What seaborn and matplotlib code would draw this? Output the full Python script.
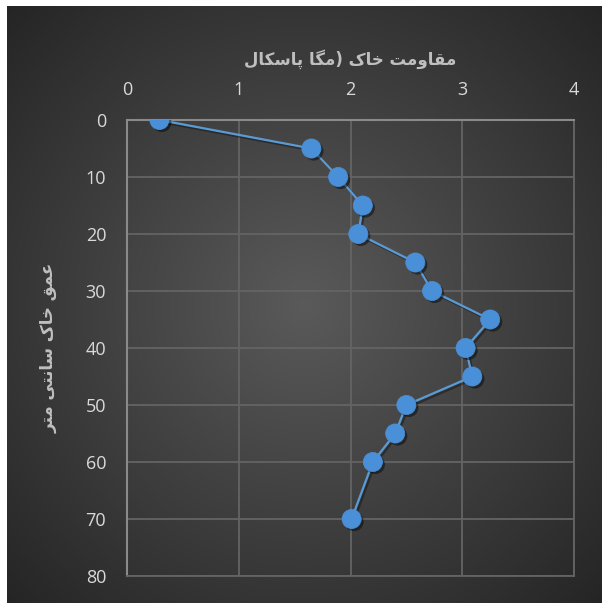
import numpy as np
import pandas as pd
import matplotlib
matplotlib.use("Agg")
import matplotlib.pyplot as plt
import matplotlib.patheffects as pe
import seaborn as sns

# Soil penetration resistance versus depth
depth_cm = [0, 5, 10, 15, 20, 25, 30, 35, 40, 45, 50, 55, 60, 70]
resistance_mpa = [0.29, 1.65, 1.89, 2.11, 2.07, 2.58, 2.73, 3.25, 3.03, 3.09, 2.50, 2.40, 2.20, 2.01]

x_ticks = [0, 1, 2, 3, 4]
y_ticks = [0, 10, 20, 30, 40, 50, 60, 70, 80]

x_title = "مقاومت خاک (مگا پاسکال"
y_title = "عمق خاک سانتی متر"

# --- minimal Arabic/Persian shaping (matplotlib has no text shaping) ---
# (isolated, final, initial, medial); right-joining letters have no initial/medial forms
DUAL = {
    "ب": (0xFE8F, 0xFE90, 0xFE91, 0xFE92),
    "پ": (0xFB56, 0xFB57, 0xFB58, 0xFB59),
    "ت": (0xFE95, 0xFE96, 0xFE97, 0xFE98),
    "خ": (0xFEA5, 0xFEA6, 0xFEA7, 0xFEA8),
    "س": (0xFEB1, 0xFEB2, 0xFEB3, 0xFEB4),
    "ع": (0xFEC9, 0xFECA, 0xFECB, 0xFECC),
    "ق": (0xFED5, 0xFED6, 0xFED7, 0xFED8),
    "ک": (0xFB8E, 0xFB8F, 0xFB90, 0xFB91),
    "گ": (0xFB92, 0xFB93, 0xFB94, 0xFB95),
    "ل": (0xFEDD, 0xFEDE, 0xFEDF, 0xFEE0),
    "م": (0xFEE1, 0xFEE2, 0xFEE3, 0xFEE4),
    "ن": (0xFEE5, 0xFEE6, 0xFEE7, 0xFEE8),
    "ی": (0xFBFC, 0xFBFD, 0xFBFE, 0xFBFF),
}
RIGHT = {
    "ا": (0xFE8D, 0xFE8E),
    "و": (0xFEED, 0xFEEE),
    "ر": (0xFEAD, 0xFEAE),
    "د": (0xFEA9, 0xFEAA),
}
MIRROR = {"(": ")", ")": "("}


def shape_rtl(text):
    out = []
    for i, ch in enumerate(text):
        prev = text[i - 1] if i > 0 else ""
        nxt = text[i + 1] if i + 1 < len(text) else ""
        joins_prev = prev in DUAL
        joins_next = nxt in DUAL or nxt in RIGHT
        if ch in DUAL:
            iso, fin, ini, med = DUAL[ch]
            if joins_prev and joins_next:
                out.append(chr(med))
            elif joins_prev:
                out.append(chr(fin))
            elif joins_next:
                out.append(chr(ini))
            else:
                out.append(chr(iso))
        elif ch in RIGHT:
            iso, fin = RIGHT[ch]
            out.append(chr(fin) if joins_prev else chr(iso))
        else:
            out.append(MIRROR.get(ch, ch))
    return "".join(reversed(out))


W, H, DPI = 602, 603, 100
fig = plt.figure(figsize=(W / DPI, H / DPI), dpi=DPI, facecolor="white")

# dark radial-gradient chart background
bg = fig.add_axes([7 / W, 0, (W - 7) / W, (H - 6) / H], zorder=0)
gy, gx = np.mgrid[-1:1:400j, -1:1:400j]
r = np.clip(np.sqrt(gx ** 2 + gy ** 2) / np.sqrt(2), 0, 1)
inner = np.array([0x5a, 0x5a, 0x5a]) / 255
outer = np.array([0x25, 0x25, 0x25]) / 255
img = inner[None, None, :] * (1 - r[..., None]) + outer[None, None, :] * r[..., None]
bg.imshow(img, extent=[0, 1, 0, 1], aspect="auto", interpolation="bilinear")
bg.set_axis_off()

left, right = 127 / W, 574 / W
top, bottom = 1 - 120 / H, 1 - 576 / H
ax = fig.add_axes([left, bottom, right - left, top - bottom], zorder=1)
ax.set_facecolor("none")

df = pd.DataFrame({"resistance": resistance_mpa, "depth": depth_cm})

# connecting line with a soft drop shadow
sns.lineplot(
    data=df, x="resistance", y="depth", ax=ax, sort=False, estimator=None,
    color="#5b9bd5", linewidth=1.6, zorder=4,
)
ax.lines[0].set_path_effects([
    pe.SimpleLineShadow(offset=(1.5, -1.5), shadow_color="black", alpha=0.35),
    pe.Normal(),
])

# round markers with drop shadow
sns.scatterplot(
    data=df, x="resistance", y="depth", ax=ax, s=190,
    color="#4a90d9", edgecolor="#4a90d9", linewidth=0.5, zorder=5,
)
ax.collections[-1].set_path_effects([
    pe.SimplePatchShadow(offset=(1.8, -1.8), shadow_rgbFace="black", alpha=0.45),
    pe.Normal(),
])

ax.set_xlim(0, 4)
ax.set_ylim(80, 0)
ax.set_xticks(x_ticks)
ax.set_yticks(y_ticks)
ax.xaxis.tick_top()
ax.xaxis.set_label_position("top")
ax.tick_params(length=0, labelsize=13, labelcolor="#d9d9d9", pad=15)
for lab in ax.get_xticklabels() + ax.get_yticklabels():
    lab.set_family(["Open Sans", "DejaVu Sans"])

ax.grid(True, color="#646464", linewidth=1.3)
ax.set_axisbelow(True)
for side in ("right", "bottom"):
    ax.spines[side].set_color("#646464")
    ax.spines[side].set_linewidth(1.3)
for side in ("left", "top"):
    ax.spines[side].set_color("#8a8a8a")
    ax.spines[side].set_linewidth(1.5)

ax.set_xlabel(shape_rtl(x_title), fontsize=12, fontweight="bold",
              color="#bfbfbf", family=["DejaVu Sans"], labelpad=12)
ax.set_ylabel(shape_rtl(y_title), fontsize=12, fontweight="bold",
              color="#bfbfbf", family=["DejaVu Sans"], labelpad=20)

fig.savefig("out.png", dpi=DPI, facecolor="white")
